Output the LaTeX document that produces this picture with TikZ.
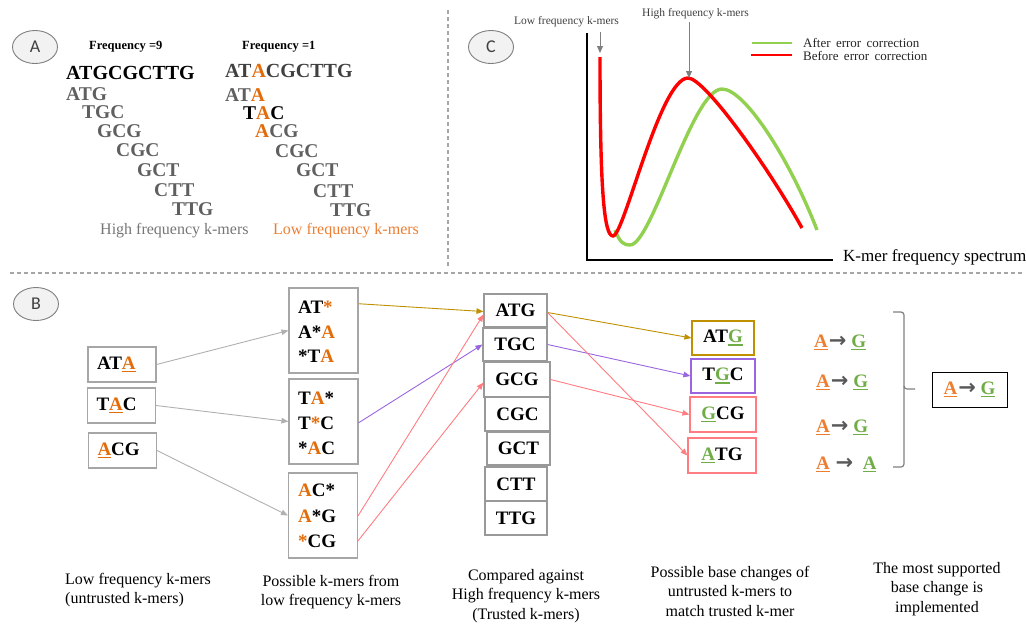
\documentclass[tikz,border=0pt]{standalone}
\usepackage{fontspec}
\setmainfont{Liberation Serif}
\newfontfamily\tagfont{Carlito}
\newfontfamily\glyphfont{DejaVu Sans}
\usetikzlibrary{arrows.meta,shapes.geometric,calc}

\definecolor{kOrange}{HTML}{E36C0A}
\definecolor{kOrangeTxt}{HTML}{ED7D31}
\definecolor{kGreen}{HTML}{70AD47}
\definecolor{kGray}{HTML}{5F5F5F}
\definecolor{kDark}{HTML}{404040}
\definecolor{kCaption}{HTML}{767676}
\definecolor{kGold}{HTML}{BF9000}
\definecolor{kPurple}{HTML}{9966E0}
\definecolor{kPink}{HTML}{FF7C80}
\definecolor{kLinkGray}{HTML}{B0B0B0}
\definecolor{kBoxLine}{HTML}{A6A6A6}
\definecolor{kTrustLine}{HTML}{999999}
\definecolor{kDash}{HTML}{A6A6A6}
\definecolor{kTagFill}{HTML}{F2F2F2}
\definecolor{kTagLine}{HTML}{7F7F7F}
\definecolor{kBrace}{HTML}{7F7F7F}
\definecolor{kArrowGlyph}{HTML}{595959}
\definecolor{kCurveRed}{HTML}{FF0000}
\definecolor{kCurveGreen}{HTML}{92D050}

% font size helper (1pt = 1 pixel of the page)
\newcommand\fsz[1]{\fontsize{#1}{#1}\selectfont}
% orange base
\newcommand\ob[1]{\textcolor{kOrange}{#1}}
% coloured, thickly underlined letter
\newcommand\kul[2]{{\color{#1}\setbox0\hbox{#2}\rlap{\raisebox{-3.4pt}{\rule{\wd0}{1.6pt}}}\box0}}
% arrow of a base change
\newcommand\arw{\hspace{1pt}{\glyphfont\fontsize{21}{21}\selectfont\textcolor{kArrowGlyph}{→}}}

\begin{document}
\begin{tikzpicture}[x=1pt,y=-1pt,
  tag/.style={ellipse, draw=kTagLine, fill=kTagFill, line width=0.9pt,
    minimum width=45pt, minimum height=33pt, inner sep=0pt,
    font=\tagfont\fsz{18}, text=kDark},
  freq/.style={anchor=base west, inner sep=0pt, font=\bfseries\fsz{12.5}},
  seq/.style={anchor=base west, inner sep=0pt, font=\bfseries\fsz{20}},
  sub/.style={anchor=base west, inner sep=0pt, font=\bfseries\fsz{19.5}, text=kGray},
  note/.style={anchor=base west, inner sep=0pt, font=\fsz{16}},
  small/.style={anchor=base west, inner sep=0pt, font=\fsz{11.5}, text=kDark},
  legendtext/.style={anchor=base west, inner sep=0pt, font=\fsz{13}, text=black!85},
  caption/.style={inner sep=0pt, align=center, font=\fontsize{16}{19.5}\selectfont},
  lowbox/.style={draw=kBoxLine, line width=1.1pt, inner xsep=9pt, inner ysep=0pt,
    text width=50pt, minimum height=35pt, align=left, font=\bfseries\fsz{19}},
  groupbox/.style={draw=kBoxLine, line width=1.1pt, inner sep=0pt, minimum width=69pt, minimum height=85pt},
  row/.style={anchor=base west, inner sep=0pt, font=\bfseries\fsz{19}},
  trusted/.style={draw=kTrustLine, line width=1.1pt, inner sep=0pt, font=\bfseries\fsz{19}},
  fixbox/.style={draw=#1, line width=1.1pt, inner sep=0pt, minimum height=34pt, font=\bfseries\fsz{19}},
  change/.style={anchor=base west, inner sep=0pt, font=\bfseries\fsz{19}},
  link/.style={draw=#1, line width=0.9pt, -{Triangle[length=7pt,width=5.5pt]}},
  pointer/.style={draw=kTagLine, line width=0.9pt, -{Triangle[length=7pt,width=6pt]}},
  divider/.style={draw=kDash, line width=1.2pt, dash pattern=on 4pt off 3pt},
  brace/.style={draw=kBrace, line width=1.2pt, rounded corners=3pt},
]
\useasboundingbox (0,0) rectangle (1026,625);

% ---------- dividers ----------
\draw[divider] (448,10) -- (448,268);
\draw[divider] (10,273) -- (1022,273);

% ---------- panel A: k-mers of a read ----------
\node[tag] (tagA) at (35,47) {A};
\node[freq] (freqHi) at (89,49) {Frequency =9};
\node[freq] (freqLo) at (242,49) {Frequency =1};

\node[seq] (readHi) at (66,79) {ATGCGCTTG};
\node[sub] (h1) at (66,100) {ATG};
\node[sub] (h2) at (82,118) {TGC};
\node[sub] (h3) at (97,137) {GCG};
\node[sub] (h4) at (116,156) {CGC};
\node[sub] (h5) at (137,176) {GCT};
\node[sub] (h6) at (154,196) {CTT};
\node[sub] (h7) at (172,215) {TTG};
\node[note, text=kCaption] (hiNote) at (100,234) {High frequency k-mers};

\node[seq, text=kDark] (readLo) at (225,77) {AT\ob{A}CGCTTG};
\node[sub] (l1) at (225,101) {AT\ob{A}};
\node[sub, text=black] (l2) at (243,119) {T\ob{A}C};
\node[sub] (l3) at (255,137) {\ob{A}CG};
\node[sub] (l4) at (275,157) {CGC};
\node[sub] (l5) at (296,176) {GCT};
\node[sub] (l6) at (313,197) {CTT};
\node[sub] (l7) at (330,216) {TTG};
\node[note, text=kOrangeTxt] (loNote) at (273,234) {Low frequency k-mers};

% ---------- panel C: k-mer spectrum ----------
\node[tag] (tagC) at (491,47) {C};
\draw[line width=1.6pt] (587,33) -- (587,260) -- (833,260);
\node[note, font=\fsz{17}] (xlabel) at (843,261) {K-mer frequency spectrum};

\draw[kCurveGreen, line width=3.4pt]
  (615,230) .. controls (620,243) and (624,245) .. (630,245)
            .. controls (652,245) and (692,89) .. (722,89)
            .. controls (745,89) and (790,160) .. (817,230);
\draw[kCurveRed, line width=3.4pt]
  (600,57) .. controls (600,190) and (604,236) .. (613,236)
           .. controls (624,236) and (660,78) .. (688,78)
           .. controls (705,78) and (770,170) .. (802,228);

\node[small] (cLow) at (514,24) {Low frequency k-mers};
\node[small] (cHigh) at (642,16) {High frequency k-mers};
\coordinate (cLowTail) at (600,32);
\coordinate (cLowTip) at (600,53);
\coordinate (cHighTail) at (689,22);
\coordinate (cHighTip) at (689,78);
\draw[pointer] (cLowTail) -- (cLowTip);
\draw[pointer] (cHighTail) -- (cHighTip);

\draw[kCurveGreen, line width=2.6pt] (752,43) -- (792,43);
\draw[kCurveRed, line width=2.6pt] (751,55) -- (792,55);
\node[legendtext] (legAfter) at (803,47) {After\, error\, correction};
\node[legendtext] (legBefore) at (803,60) {Before\, error\, correction};

% ---------- panel B: correction of untrusted k-mers ----------
\node[tag] (tagB) at (36,304) {B};

% untrusted k-mers
\node[lowbox] (ata) at (122,364.5) {AT\kul{kOrange}{A}};
\node[lowbox] (tac) at (121.5,405.5) {T\kul{kOrange}{A}C};
\node[lowbox] (acg) at (122.5,450.5) {\kul{kOrange}{A}CG};

% candidate k-mers with one wildcard
\node[groupbox] (pg1) at (323.5,330.5) {};
\node[groupbox] (pg2) at (323.5,421.5) {};
\node[groupbox] (pg3) at (323,515.5) {};
\node[row] (r11) at (298,313) {AT\ob{*}};
\node[row] (r12) at (298,338) {A*\ob{A}};
\node[row] (r13) at (298,362) {*T\ob{A}};
\node[row] (r21) at (298,404) {T\ob{A}*};
\node[row] (r22) at (298,429) {T\ob{*}C};
\node[row] (r23) at (298,454) {*\ob{A}C};
\node[row] (r31) at (298,496) {\ob{A}C*};
\node[row] (r32) at (298,522) {\ob{A}*G};
\node[row] (r33) at (298,547) {\ob{*}CG};

% trusted k-mers
\node[trusted, minimum width=63pt, minimum height=33pt] (tATG) at (515.5,310.5) {ATG};
\node[trusted, minimum width=64pt, minimum height=33pt] (tTGC) at (515,344.5) {TGC};
\node[trusted, minimum width=66pt, minimum height=35pt] (tGCG) at (517,379.5) {GCG};
\node[trusted, minimum width=65pt, minimum height=34pt] (tCGC) at (517.5,414) {CGC};
\node[trusted, minimum width=63pt, minimum height=33pt] (tGCT) at (518.5,448.5) {GCT};
\node[trusted, minimum width=62pt, minimum height=34pt] (tCTT) at (516,484) {CTT};
\node[trusted, minimum width=62pt, minimum height=34pt] (tTTG) at (516,518) {TTG};

% corrected k-mers
\node[fixbox=kGold, minimum width=62pt] (fATG) at (723,338) {AT\kul{kGreen}{G}};
\node[fixbox=kPurple, minimum width=64pt] (fTGC) at (723,376) {T\kul{kGreen}{G}C};
\node[fixbox=kPink, minimum width=66pt, minimum height=35pt] (fGCG) at (723,414.5) {\kul{kGreen}{G}CG};
\node[fixbox=kPink, minimum width=68pt, minimum height=35pt] (fATG2) at (722,455.5) {\kul{kGreen}{A}TG};

% links: untrusted -> candidates
\draw[link=kLinkGray] (ata.east) -- (pg1.west);
\draw[link=kLinkGray] (tac.east) -- (pg2.west);
\draw[link=kLinkGray] (acg.east) -- (pg3.west);

% links: candidates -> trusted
\draw[link=kGold] ($(r11.west -| pg1.east)+(0,-3)$) -- ($(tATG.west)+(0,1)$);
\draw[link=kPurple] (r22.west -| pg2.east) -- (tTGC.west);
\draw[link=kPink] (r32.west -| pg3.east) -- ($(tATG.west)+(0,4)$);
\draw[link=kPink] (r33.west -| pg3.east) -- ($(tGCG.west)+(0,3)$);

% links: trusted -> corrected
\draw[link=kGold] ($(tATG.east)+(0,2)$) -- (fATG.west);
\draw[link=kPurple] (tTGC.east) -- (fTGC.west);
\draw[link=kPink] (tGCG.east) -- (fGCG.west);
\draw[link=kPink] ($(tATG.east)+(0,2)$) -- (fATG2.west);

% base changes and vote
\node[change] (c1) at (814,347) {\kul{kOrangeTxt}{A}\arw\ \kul{kGreen}{G}};
\node[change] (c2) at (816,387) {\kul{kOrangeTxt}{A}\arw\ \kul{kGreen}{G}};
\node[change] (c3) at (816,432) {\kul{kOrangeTxt}{A}\arw\ \kul{kGreen}{G}};
\node[change] (c4) at (816,469) {\kul{kOrangeTxt}{A}\ \arw\ \ \kul{kGreen}{A}};
\draw[brace] (893,312) -| (904,389) -- (915,389);
\draw[brace] (904,386) |- (893,467);
\node[draw=black, line width=1pt, minimum width=75pt, minimum height=35pt, inner sep=0pt,
  font=\bfseries\fsz{19}] (best) at (969.5,389.5) {\kul{kOrangeTxt}{A}\arw\ \kul{kGreen}{G}};

% captions
\node[caption, anchor=west, align=left] (capLow) at (65,590) {Low frequency k-mers\\(untrusted k-mers)};
\node[caption] (capCand) at (331,592) {Possible k-mers from\\ low frequency k-mers};
\node[caption] (capComp) at (526,596) {Compared against\\High frequency k-mers\\(Trusted k-mers)};
\node[caption] (capChg) at (730,591) {Possible base changes of\\untrusted k-mers to\\match trusted k-mer};
\node[caption] (capBest) at (937,589) {The most supported\\base change is\\implemented};
\end{tikzpicture}
\end{document}
